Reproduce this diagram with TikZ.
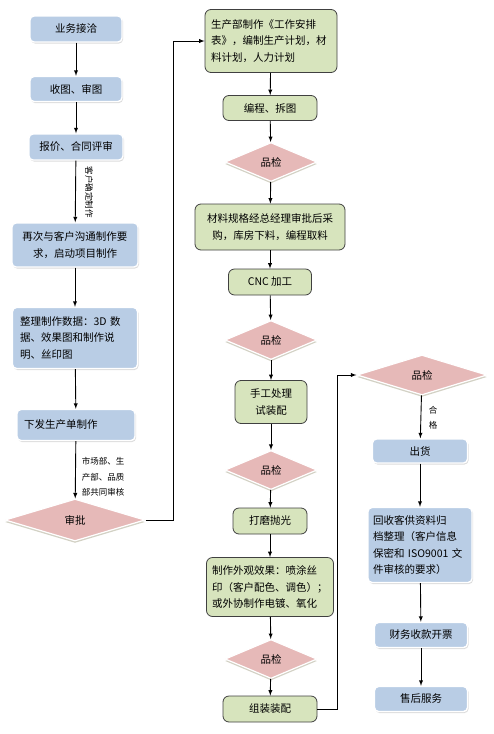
\documentclass[tikz,border=0pt]{standalone}
\usepackage{fontspec}
\newfontfamily\cjk{Noto Sans CJK SC}
\usetikzlibrary{shapes.geometric,shadows}
\definecolor{boxblue}{HTML}{B9CDE5}
\definecolor{boxgreen}{HTML}{D7E4BD}
\definecolor{checkpink}{HTML}{E6B9B8}
\definecolor{checkshade}{HTML}{A6A38A}
\tikzset{
    blue box/.style = {
        shape = rectangle,
        align = center,
        draw  = white,
        line width = 1.4pt,
        fill  = boxblue,
        rounded corners = 4pt,
        drop shadow = {shadow xshift=1pt, shadow yshift=-1.5pt, fill=gray!55},
        inner sep = 0pt
    },
    green box/.style = {
        shape = rectangle,
        align = center,
        draw  = black!75,
        line width = 0.8pt,
        fill  = boxgreen,
        rounded corners = 6pt,
        inner sep = 0pt
    },
    check diamond/.style = {
        shape = diamond,
        aspect = 2.4,
        draw  = white,
        line width = 1.2pt,
        fill  = checkpink,
        drop shadow = {shadow xshift=0pt, shadow yshift=-2pt, fill=checkshade},
        inner sep = 0pt
    },
    side note/.style = {
        font = \cjk\fontsize{8.5}{15.5}\selectfont,
        align = left,
        inner sep = 0pt
    }
}

\begin{document}
\begin{tikzpicture}[x=1pt, y=-1pt, line width=0.9pt, >=latex,
    nodes = {font=\cjk\fontsize{10.5}{16.5}\selectfont}]
      \useasboundingbox (0,0) rectangle (494,734);

      % left column
      \node (deal) at (76,29) [blue box, minimum width=92, minimum height=26] {业务接洽};
      \node (receive) at (76,89) [blue box, minimum width=92, minimum height=25] {收图、审图};
      \node (quote) at (76,147) [blue box, minimum width=94, minimum height=26] {报价、合同评审};
      \node (talk) at (75,245) [blue box, minimum width=126, minimum height=44] {再次与客户沟通制作要\\求，启动项目制作};
      \node (data) at (75,338) [blue box, minimum width=125, minimum height=61, text width=110, align=left] {整理制作数据：3D 数\\据、效果图和制作说\\明、丝印图};
      \node (order) at (76,425) [blue box, minimum width=118, minimum height=31, text width=104, align=left] {下发生产单制作};
      \node (approve) at (75,520) [check diamond, minimum width=140, minimum height=42] {审批};

      \node (confirm note) at (89,192) [side note, rotate=-90] {客户确定制作};
      \node (review note) at (103,477) [side note] {市场部、生\\产部、品质\\部共同审核};

      % middle column
      \node (plan) at (271,41) [green box, minimum width=132, minimum height=63, text width=120, align=left] {生产部制作《工作安排\\表》，编制生产计划，材\\料计划，人力计划};
      \node (program) at (270,108) [green box, minimum width=94, minimum height=25] {编程、拆图};
      \node (qc1) at (271,162) [check diamond, minimum width=92, minimum height=39] {品检};
      \node (material) at (270,227) [green box, minimum width=150, minimum height=46] {材料规格经总经理审批后采\\购，库房下料，编程取料};
      \node (cnc) at (270,282) [green box, minimum width=83, minimum height=26] {CNC 加工};
      \node (qc2) at (271,340) [check diamond, minimum width=92, minimum height=39] {品检};
      \node (fit) at (271,402) [green box, minimum width=72, minimum height=43] {手工处理\\试装配};
      \node (qc3) at (271,470) [check diamond, minimum width=92, minimum height=39] {品检};
      \node (polish) at (270,521) [green box, minimum width=74, minimum height=26] {打磨抛光};
      \node (finish) at (270,587) [green box, minimum width=127, minimum height=59, text width=116, align=left] {制作外观效果：喷涂丝\\印（客户配色、调色）；\\或外协制作电镀、氧化};
      \node (qc4) at (271,659) [check diamond, minimum width=92, minimum height=39] {品检};
      \node (assemble) at (270,709) [green box, minimum width=94, minimum height=26] {组装装配};

      % right column
      \node (qc5) at (422,375) [check diamond, minimum width=130, minimum height=40] {品检};
      \node (ship) at (420,451) [blue box, minimum width=95, minimum height=24] {出货};
      \node (archive) at (420,545) [blue box, minimum width=104, minimum height=75, text width=94, align=left] {回收客供资料归\\档整理（客户信息\\保密和 ISO9001 文\\件审核的要求）};
      \node (pay) at (421,635) [blue box, minimum width=93, minimum height=25] {财务收款开票};
      \node (service) at (421,699) [blue box, minimum width=93, minimum height=25] {售后服务};
      \node (pass note) at (433,418) [side note, align=center] {合\\格};

      % connectors
      \draw[->] (deal) -- (receive);
      \draw[->] (receive) -- (quote);
      \draw[->] (quote) -- (talk);
      \draw[->] (talk) -- (data);
      \draw[->] (data) -- (order);
      \draw[->] (order) -- (approve);
      \draw[->] (approve.east) -- ++(28,0) |- (plan.west);

      \draw[->] (plan) -- (program);
      \draw[->] (program) -- (qc1);
      \draw[->] (qc1) -- (material);
      \draw[->] (material) -- (cnc);
      \draw[->] (cnc) -- (qc2);
      \draw[->] (qc2) -- (fit);
      \draw[->] (fit) -- (qc3);
      \draw[->] (qc3) -- (polish);
      \draw[->] (polish) -- (finish);
      \draw[->] (finish) -- (qc4);
      \draw[->] (qc4) -- (assemble);
      \draw[->] (assemble.east) -- ++(20,0) |- (qc5.west);

      \draw[->] (qc5) -- (ship);
      \draw[->] (ship) -- (archive);
      \draw[->] (archive) -- (pay);
      \draw[->] (pay) -- (service);
    \end{tikzpicture}
\end{document}
